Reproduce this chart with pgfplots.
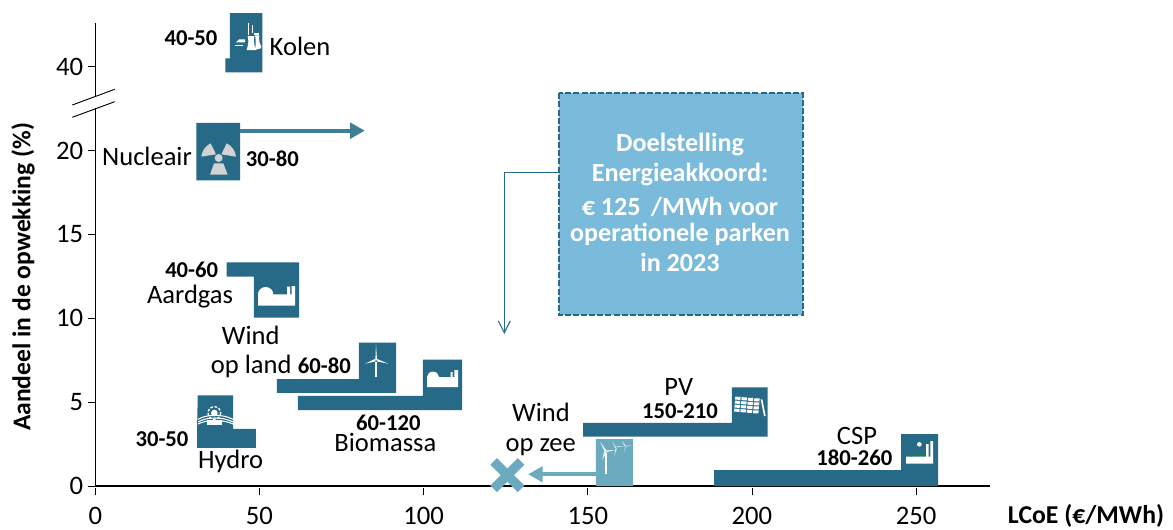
\documentclass[border=0pt]{standalone}
\usepackage{fontspec}
\setmainfont{Carlito}
\usepackage{pgfplots}
\pgfplotsset{compat=1.18}
\usetikzlibrary{arrows.meta}
\definecolor{bar}{HTML}{266A87}
\definecolor{barlight}{HTML}{6CAAC0}
\definecolor{arrowc}{HTML}{3F7E97}
\definecolor{boxfill}{HTML}{7ABADA}
\definecolor{trefoil}{HTML}{D2D2D2}
\newcommand{\lbl}[3]{\node[anchor=base,inner sep=0pt,font=\fontsize{19.9}{20}\selectfont] at (#1,#2) {#3};}
\newcommand{\rng}[3]{\node[anchor=base,inner sep=0pt,font=\fontsize{17}{18}\selectfont\bfseries] at (#1,#2) {#3};}
\newcommand{\boxl}[2]{\node[anchor=base,inner sep=0pt,text=white,font=\fontsize{19.6}{20}\selectfont\bfseries] at (680,#1) {#2};}
\tikzset{zone/.style 2 args={shift={(#1*.75pt,-#2*.75pt)},x=.25pt,y=-.25pt}}
\begin{document}
\begin{tikzpicture}[x=.75pt,y=-.75pt]
\useasboundingbox (0,0) rectangle (1173,529);
\begin{axis}[
  at={(95.3*.75pt,-486*.75pt)}, anchor=origin,
  scale only axis,
  width=895pt*.75, height=463.3pt*.75,
  xmin=0, xmax=272.6, ymin=0, ymax=27.63,
  axis lines=left,
  axis line style={-, line width=.8pt},
  xtick={0,50,100,150,200,250},
  ytick={0,5,10,15,20,25},
  yticklabels={0,5,10,15,20,40},
  tick align=outside,
  major tick length=5.5pt,
  tick style={black, line width=.6pt},
  xtick style={yshift=-1.5pt},
  tick label style={font=\fontsize{20}{20}\selectfont},
  xticklabel style={yshift=-6.5pt},
  /pgf/number format/assume math mode=true,
  clip=false,
]
% Kolen
\addplot[fill=bar,draw=none] coordinates {(41.0,28.2)(50.9,28.2)(50.9,24.67)(39.6,24.67)(39.6,25.5)(41.0,25.5)(41.0,28.2)};
% Nucleair
\addplot[fill=bar,draw=none] coordinates {(30.8,21.65)(44.1,21.65)(44.1,18.23)(30.8,18.23)(30.8,21.65)};
% Aardgas
\addplot[fill=bar,draw=none] coordinates {(40.0,13.34)(62.1,13.34)(62.1,10.04)(48.3,10.04)(48.3,12.48)(40.0,12.48)(40.0,13.34)};
% Wind op land
\addplot[fill=bar,draw=none] coordinates {(80.3,8.55)(91.6,8.55)(91.6,5.56)(55.3,5.56)(55.3,6.38)(80.3,6.38)(80.3,8.55)};
% Biomassa
\addplot[fill=bar,draw=none] coordinates {(99.8,7.53)(111.7,7.53)(111.7,4.53)(61.7,4.53)(61.7,5.37)(99.8,5.37)(99.8,7.53)};
% Hydro
\addplot[fill=bar,draw=none] coordinates {(31.2,5.41)(42.0,5.41)(42.0,3.4)(48.9,3.4)(48.9,2.27)(31.0,2.27)(31.0,3.4)(31.2,5.41)};
% PV
\addplot[fill=bar,draw=none] coordinates {(193.9,5.88)(204.8,5.88)(204.8,2.94)(148.6,2.94)(148.6,3.76)(193.9,3.76)(193.9,5.88)};
% CSP
\addplot[fill=bar,draw=none] coordinates {(245.4,3.1)(256.7,3.1)(256.7,0)(188.5,0)(188.5,0.95)(245.4,0.95)(245.4,3.1)};
% Wind op zee
\addplot[fill=barlight,draw=none] coordinates {(152.5,2.8)(163.7,2.8)(163.7,0)(152.5,0)(152.5,2.8)};
\addplot[arrowc,line width=3pt,-{Triangle[length=11pt,width=11.5pt]}] coordinates {(44.1,21.19)(82.1,21.19)};
\addplot[barlight,line width=3.2pt,-{Triangle[length=11pt,width=11.5pt]}] coordinates {(152.5,0.7)(131.8,0.7)};
\addplot[only marks,mark=x,mark size=14.5pt,barlight,mark options={line width=7pt}] coordinates {(125.5,0.65)};
\end{axis}
% axis break
\fill[white] (90,97) rectangle (100,108);
\draw[line width=.7pt] (72.3,105) -- (114.7,89.3);
\draw[line width=.7pt] (72.3,117.3) -- (114.7,101.7);
% callout
\draw[bar,line width=.8pt,-{Straight Barb[length=9pt,width=9pt]}] (559,172.3) -- (504.3,172.3) -- (504.3,334);
\draw[fill=boxfill,draw=bar,line width=1.7pt,dash pattern=on 4.5pt off 1.6pt] (559,93.3) rectangle (802.7,315.3);
\boxl{151.7}{Doelstelling}
\boxl{181}{Energieakkoord:}
\boxl{215.7}{€ 125 \,/MWh voor}
\boxl{241.7}{operationele parken}
\boxl{271.7}{in 2023}
% labels
\rng{191}{45.7}{40-50}
\lbl{300}{55}{Kolen}
\lbl{147}{165.7}{Nucleair}
\rng{272.3}{166.7}{30-80}
\rng{191.7}{277.7}{40-60}
\lbl{190}{303.3}{Aardgas}
\lbl{250.7}{344.3}{Wind}
\lbl{251.3}{373.3}{op land}
\rng{324.3}{373.3}{60-80}
\rng{388.3}{430}{60-120}
\lbl{385.3}{451.7}{Biomassa}
\rng{162}{446}{30-50}
\lbl{230.7}{468.3}{Hydro}
\lbl{541}{421.7}{Wind}
\lbl{540.7}{451}{op zee}
\lbl{678.7}{395.7}{PV}
\rng{680}{418.3}{150-210}
\lbl{857}{444.3}{CSP}
\rng{854.3}{465}{180-260}
\node[rotate=90,inner sep=0pt,font=\fontsize{19.2}{20}\selectfont\bfseries] at (23,277) {Aandeel in de opwekking (\%)};
\node[anchor=base,inner sep=0pt,font=\fontsize{19.3}{20}\selectfont\bfseries] at (1086,523) {LCoE (€/MWh)};
% icons: Kolen
\begin{scope}[zone={60}{0},white]
\fill (563,105) -- (563,68) -- (568,68) -- (568,105) -- cycle;
\fill (576,100) -- (576,76) -- (580,76) -- (580,100) -- cycle;
\fill (582,100) rectangle (598,104);
\fill (560,150) .. controls (566,130) and (566,120) .. (563,108) -- (583,108) .. controls (581,120) and (581,130) .. (587,150) -- cycle;
\fill (585,150) .. controls (588,130) and (588,120) .. (585,106) -- (598,106) .. controls (596,120) and (598,130) .. (604,140) -- (602,145) -- cycle;
\fill (528,127) -- (537,118) -- (555,118) -- (555,127) -- cycle;
\fill (525,135) rectangle (550,139);
\end{scope}
% icons: Nucleair
\begin{scope}[zone={60}{0}]
\fill[trefoil] (468,463) -- (424,470) .. controls (426,450) and (438,437) .. (452,430) -- cycle;
\fill[trefoil] (484,463) -- (528,470) .. controls (526,450) and (514,437) .. (500,430) -- cycle;
\fill[trefoil] (462,490) -- (450,524) -- (503,524) -- (490,490) -- cycle;
\fill[trefoil] (476,474) circle[radius=12];
\end{scope}
% icons: Aardgas
\begin{scope}[zone={60}{260},white]
\fill (594,137) -- (594,103) arc (180:360:23 and 22) -- (641,103) -- (681,103) -- (681,80) -- (690,80) -- (690,103) -- (695,103) -- (695,78) -- (705,78) -- (705,137) -- cycle;
\end{scope}
% icons: Biomassa
\begin{scope}[zone={60}{260},white]
\fill (1101,381) -- (1101,351) arc (180:360:18 and 16) -- (1172,351) -- (1172,336) -- (1178,336) -- (1178,351) -- (1183,351) -- (1183,330) -- (1194,330) -- (1194,381) -- cycle;
\end{scope}
% icons: Wind op land
\begin{scope}[zone={60}{260},white]
\fill (945,305) rectangle (951,351);
\fill (946,300) -- (948,252) -- (951,300) -- cycle;
\fill (945,297) -- (915,311) -- (947,304) -- cycle;
\fill (951,297) -- (985,311) -- (950,304) -- cycle;
\end{scope}
% icons: Hydro
\begin{scope}[zone={60}{260}]
\draw[white,line width=.8pt] (414,478) .. controls (440,462) and (490,462) .. (519,478);
\draw[white,line width=.8pt] (414,486) .. controls (440,470) and (490,470) .. (519,486);
\draw[white,line width=.8pt] (414,492) .. controls (440,478) and (490,478) .. (519,492);
\fill[white] (441,480) rectangle (486,494);
\fill[white] (463,459) circle[radius=10];
\draw[white,line width=1pt,dash pattern=on 2pt off 1.2pt] (463,459) circle[radius=19];
\end{scope}
% icons: Wind op zee
\begin{scope}[zone={470}{340},white]
\fill (405,340) rectangle (411,403);
\fill[white!85!barlight] (404,335) -- (390,305) -- (410,332) -- cycle;
\fill[white!85!barlight] (402,334) -- (397,360) -- (411,334) -- cycle;
\fill[white!85!barlight] (410,336) -- (436,330) -- (410,331) -- cycle;
\fill[white!70!barlight] (435,325) -- (427,304) -- (439,323) -- cycle;
\fill[white!70!barlight] (436,325) -- (433,348) -- (441,325) -- cycle;
\fill[white!70!barlight] (440,322) -- (462,318) -- (440,319) -- cycle;
\fill[white!70!barlight] (463,319) -- (456,302) -- (467,317) -- cycle;
\fill[white!70!barlight] (465,322) -- (462,338) -- (468,320) -- cycle;
\fill[white!70!barlight] (468,320) -- (486,316) -- (468,317) -- cycle;
\end{scope}
% icons: PV
\begin{scope}[zone={470}{340},white]
\foreach \r in {0,1,2,3}{
  \foreach \c in {0,1,2,3}{
    \fill ({796+\c*19+\r*-1},{170+\r*12+\c*1.6}) -- ++(16,0.6) -- ++(-1,9) -- ++(-16,-0.8) -- cycle;
  }
}
\fill (872,178) -- (877,178) -- (887,228) -- (882,228) -- cycle;
\end{scope}
% icons: CSP
\begin{scope}[zone={470}{340}]
\fill[white] (1308,371) -- (1308,350) -- (1368,350) -- (1368,312) -- (1376,312) -- (1376,350) -- (1381,350) -- (1381,303) -- (1389,303) -- (1389,371) -- cycle;
\fill[white] (1348,313) circle[radius=7];
\draw[green!60!black,line width=.8pt,dash pattern=on 2pt off 1.5pt] (1320,347) -- (1368,342);
\end{scope}
\end{tikzpicture}
\end{document}
